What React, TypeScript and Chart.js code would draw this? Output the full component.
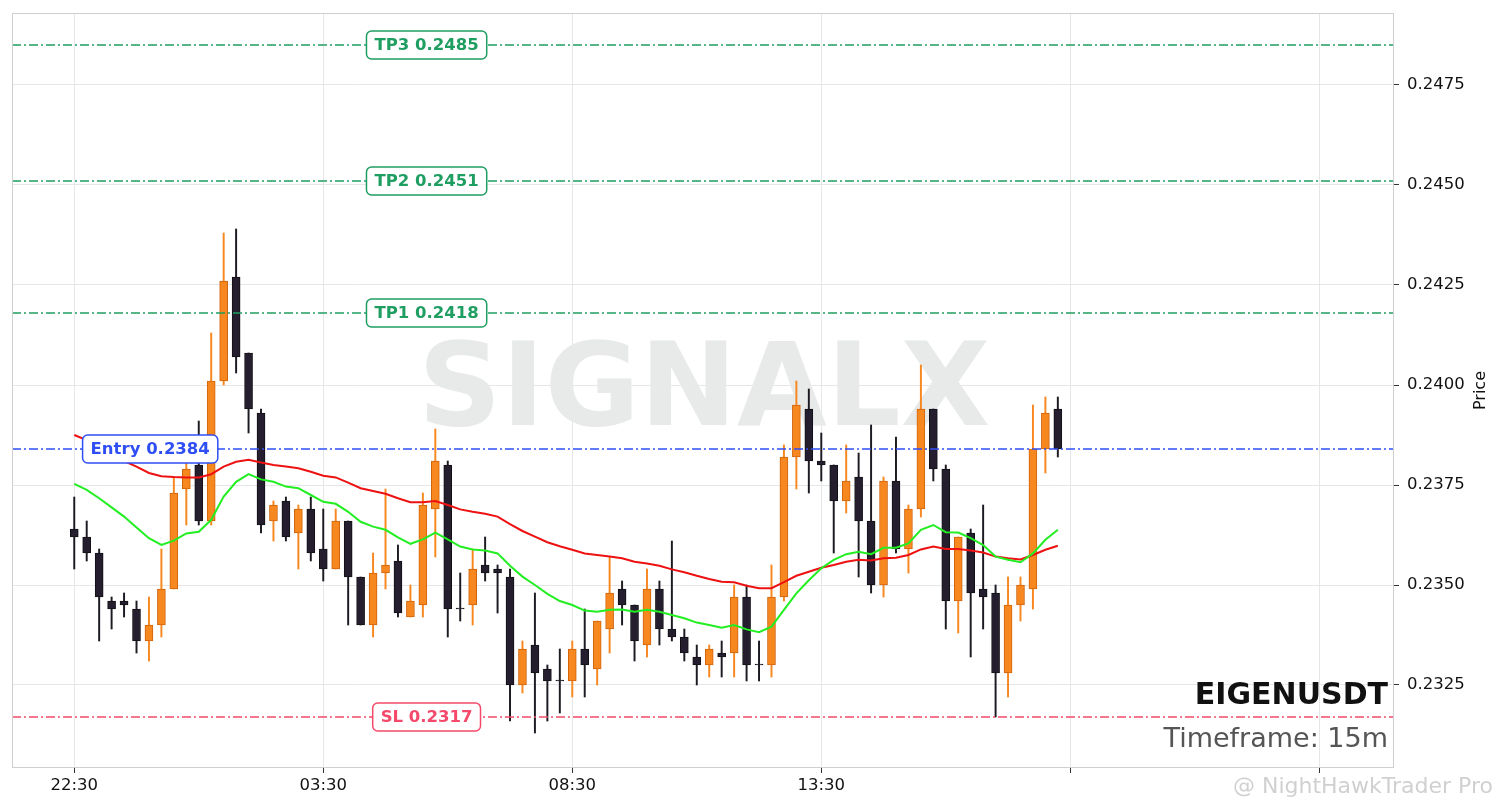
import React, { useEffect, useRef } from 'react';
import { Chart, registerables } from 'chart.js';

Chart.register(...registerables);

// 15m candles, 22:30 onwards
const opens = [
  0.2364, 0.2362, 0.2358, 0.2346, 0.2346, 0.2344, 0.2336, 0.2340, 0.2349, 0.2374,
  0.2380, 0.2366, 0.2401, 0.2427, 0.2408, 0.2393, 0.2366, 0.2371, 0.2363, 0.2369,
  0.2359, 0.2354, 0.2366, 0.2352, 0.2340, 0.2353, 0.2356, 0.2342, 0.2345, 0.2369,
  0.2380, 0.23442, 0.2345, 0.2355, 0.2354, 0.2352, 0.2325, 0.2335, 0.2329, 0.23262,
  0.2326, 0.2334, 0.2329, 0.2339, 0.2349, 0.2345, 0.2335, 0.2349, 0.2339, 0.2337,
  0.2332, 0.2330, 0.2333, 0.2333, 0.2347, 0.23302, 0.2330, 0.2347, 0.2382, 0.2394,
  0.2381, 0.2380, 0.2371, 0.2377, 0.2366, 0.2350, 0.2376, 0.2359, 0.2369, 0.2394,
  0.2379, 0.2346, 0.2363, 0.2349, 0.2348, 0.2328, 0.2345, 0.2349, 0.2384, 0.2394,
];
const highs = [
  0.2372, 0.2366, 0.2359, 0.2347, 0.2348, 0.2346, 0.2347, 0.2359, 0.2377, 0.2381,
  0.2391, 0.2413, 0.2438, 0.2439, 0.2408, 0.2394, 0.2371, 0.2372, 0.2370, 0.2372,
  0.2369, 0.2369, 0.2366, 0.2352, 0.2358, 0.2374, 0.2360, 0.2350, 0.2373, 0.2389,
  0.2381, 0.2353, 0.2359, 0.2362, 0.2355, 0.2354, 0.2336, 0.2348, 0.2330, 0.2334,
  0.2336, 0.2344, 0.2341, 0.2357, 0.2351, 0.2345, 0.2354, 0.2351, 0.2361, 0.2339,
  0.2335, 0.2335, 0.2336, 0.2350, 0.2350, 0.2336, 0.2355, 0.2385, 0.2401, 0.2399,
  0.2388, 0.2380, 0.2385, 0.2383, 0.2390, 0.2377, 0.2387, 0.2370, 0.2405, 0.2394,
  0.2380, 0.2362, 0.2364, 0.2370, 0.2350, 0.2352, 0.2352, 0.2395, 0.2397, 0.2397,
];
const lows = [
  0.2354, 0.2356, 0.2336, 0.2339, 0.2342, 0.2333, 0.2331, 0.2337, 0.2349, 0.2365,
  0.2365, 0.2365, 0.2400, 0.2403, 0.2388, 0.2363, 0.2361, 0.2361, 0.2354, 0.2356,
  0.2351, 0.2354, 0.2340, 0.2340, 0.2337, 0.2349, 0.2342, 0.2342, 0.2342, 0.2357,
  0.2337, 0.2341, 0.2340, 0.2351, 0.2343, 0.2316, 0.2323, 0.2313, 0.2316, 0.2318,
  0.2322, 0.2322, 0.2325, 0.2333, 0.2340, 0.2331, 0.2332, 0.2335, 0.2336, 0.2331,
  0.2325, 0.2327, 0.2327, 0.2327, 0.2326, 0.2326, 0.2327, 0.2346, 0.2374, 0.2373,
  0.2376, 0.2358, 0.2368, 0.2352, 0.2348, 0.2347, 0.2358, 0.2353, 0.2367, 0.2376,
  0.2339, 0.2338, 0.2332, 0.2339, 0.2317, 0.2322, 0.2341, 0.2344, 0.2378, 0.2382,
];
const closes = [
  0.2362, 0.2358, 0.2347, 0.2344, 0.2345, 0.2336, 0.2340, 0.2349, 0.2373, 0.2379,
  0.2366, 0.2401, 0.2426, 0.2407, 0.2394, 0.2365, 0.2370, 0.2362, 0.2369, 0.2358,
  0.2354, 0.2366, 0.2352, 0.2340, 0.2353, 0.2355, 0.2343, 0.2346, 0.2370, 0.2381,
  0.2344, 0.2344, 0.2354, 0.2353, 0.2353, 0.2325, 0.2334, 0.2328, 0.2326, 0.2326,
  0.2334, 0.2330, 0.2341, 0.2348, 0.2345, 0.2336, 0.2349, 0.2339, 0.2337, 0.2333,
  0.2330, 0.2334, 0.2332, 0.2347, 0.2330, 0.2330, 0.2347, 0.2382, 0.2395, 0.2381,
  0.2380, 0.2371, 0.2376, 0.2366, 0.2350, 0.2376, 0.2359, 0.2369, 0.2394, 0.2379,
  0.2346, 0.2362, 0.2348, 0.2347, 0.2328, 0.2345, 0.2350, 0.2384, 0.2393, 0.2384,
];
const emaFast = [
  0.23753, 0.23738, 0.23717, 0.23694, 0.23671, 0.23644, 0.23617, 0.23600, 0.23611, 0.23629,
  0.23633, 0.23663, 0.23721, 0.23758, 0.23777, 0.23764, 0.23758, 0.23746, 0.23742, 0.23725,
  0.23708, 0.23703, 0.23683, 0.23658, 0.23646, 0.23638, 0.23619, 0.23603, 0.23614, 0.23631,
  0.23614, 0.23596, 0.23589, 0.23586, 0.23579, 0.23548, 0.23521, 0.23500, 0.23478, 0.23460,
  0.23450, 0.23436, 0.23433, 0.23438, 0.23439, 0.23433, 0.23438, 0.23433, 0.23425, 0.23417,
  0.23406, 0.23400, 0.23393, 0.23400, 0.23389, 0.23382, 0.23396, 0.23438, 0.23479, 0.23512,
  0.23542, 0.23563, 0.23577, 0.23583, 0.23577, 0.23593, 0.23593, 0.23604, 0.23638, 0.23650,
  0.23632, 0.23631, 0.23617, 0.23600, 0.23571, 0.23563, 0.23557, 0.23579, 0.23613, 0.23638,
];
const emaSlow = [
  0.23875, 0.23862, 0.23845, 0.23828, 0.23810, 0.23796, 0.23780, 0.23772, 0.23770, 0.23769,
  0.23769, 0.23777, 0.23796, 0.23808, 0.23813, 0.23806, 0.23800, 0.23796, 0.23792, 0.23783,
  0.23773, 0.23769, 0.23756, 0.23742, 0.23735, 0.23728, 0.23717, 0.23707, 0.23707, 0.23710,
  0.23700, 0.23689, 0.23683, 0.23678, 0.23671, 0.23652, 0.23635, 0.23621, 0.23607, 0.23597,
  0.23588, 0.23579, 0.23575, 0.23571, 0.23567, 0.23558, 0.23554, 0.23548, 0.23539, 0.23532,
  0.23523, 0.23515, 0.23508, 0.23507, 0.23498, 0.23492, 0.23492, 0.23507, 0.23523, 0.23533,
  0.23543, 0.23550, 0.23558, 0.23563, 0.23561, 0.23567, 0.23568, 0.23575, 0.23589, 0.23596,
  0.23590, 0.23590, 0.23586, 0.23581, 0.23571, 0.23567, 0.23564, 0.23575, 0.23588, 0.23598,
];

const timeTickIndex = [0, 20, 40, 60, 80, 100];
const timeTickLabels = ['22:30', '03:30', '08:30', '13:30', '', ''];
const priceTicks = [0.2325, 0.235, 0.2375, 0.24, 0.2425, 0.245, 0.2475];

const levelNames = ['TP3', 'TP2', 'TP1', 'Entry', 'SL'];
const levelValues = [0.2485, 0.2451, 0.2418, 0.2384, 0.2317];

const symbol = 'EIGENUSDT';
const timeframe = 'Timeframe: 15m';

const FONT = '"DejaVu Sans", "Liberation Sans", sans-serif';
const BULL = '#f7871f';
const BULL_EDGE = '#d0640c';
const BEAR = '#251e2e';
const BEAR_EDGE = '#111016';

function levelColor(name: string) {
  if (name === 'Entry') return '#2f4ff5';
  if (name === 'SL') return '#f4496a';
  return '#1f9e62';
}

const decorPlugin = {
  id: 'decor',
  beforeDatasetsDraw(chart: any) {
    const { ctx, chartArea: a } = chart;
    ctx.save();
    ctx.font = `bold 116px ${FONT}`;
    ctx.fillStyle = '#e8eae9';
    ctx.textAlign = 'center';
    ctx.textBaseline = 'alphabetic';
    ctx.fillText('SIGNALX', (a.left + a.right) / 2 + 1, a.top + a.height * 0.5457);
    ctx.restore();
  },
  afterDatasetsDraw(chart: any) {
    const { ctx, chartArea: a, scales } = chart;
    ctx.save();
    // frame
    ctx.strokeStyle = '#cfcfcf';
    ctx.lineWidth = 1;
    ctx.strokeRect(a.left + 0.5, a.top + 0.5, a.width - 1, a.height - 1);

    // level labels
    ctx.font = `bold 16.5px ${FONT}`;
    ctx.textAlign = 'center';
    ctx.textBaseline = 'middle';
    levelNames.forEach((name, i) => {
      const v = levelValues[i];
      const text = `${name} ${v.toFixed(4)}`;
      const cx = a.left + a.width * (name === 'Entry' ? 0.1 : 0.3);
      const cy = scales.y.getPixelForValue(v);
      const w = ctx.measureText(text).width + 16;
      const h = 28;
      const col = levelColor(name);
      ctx.beginPath();
      ctx.roundRect(cx - w / 2, cy - h / 2, w, h, 5);
      ctx.fillStyle = '#ffffff';
      ctx.fill();
      ctx.lineWidth = 1.5;
      ctx.strokeStyle = col;
      ctx.stroke();
      ctx.fillStyle = col;
      ctx.fillText(text, cx, cy + 1);
    });

    // symbol / timeframe
    ctx.textAlign = 'right';
    ctx.textBaseline = 'alphabetic';
    ctx.font = `bold 30px ${FONT}`;
    ctx.fillStyle = '#111111';
    ctx.fillText(symbol, a.right - 6, 704);
    ctx.font = `27px ${FONT}`;
    ctx.fillStyle = '#555555';
    ctx.fillText(timeframe, a.right - 6, 747);

    // axis title on the right, reading upward
    ctx.save();
    ctx.translate(1481, (a.top + a.bottom) / 2);
    ctx.rotate(-Math.PI / 2);
    ctx.font = `16px ${FONT}`;
    ctx.fillStyle = '#111111';
    ctx.textAlign = 'center';
    ctx.textBaseline = 'middle';
    ctx.fillText('Price', 0, 0);
    ctx.restore();

    // faint site watermark
    ctx.font = `22px ${FONT}`;
    ctx.fillStyle = 'rgba(170,170,170,0.55)';
    ctx.textAlign = 'right';
    ctx.fillText('@ NightHawkTrader Pro', 1493, 793);
    ctx.restore();
  },
};

export default function App() {
  const canvasRef = useRef<HTMLCanvasElement>(null);
  const chartRef = useRef<Chart | null>(null);

  useEffect(() => {
    document.body.style.margin = '0';
    if (!canvasRef.current) return;
    const ctx = canvasRef.current.getContext('2d');
    if (!ctx) return;
    if (chartRef.current) chartRef.current.destroy();

    const bull = closes.map((c, i) => c >= opens[i]);
    const xMin = -5;
    const xMax = 106;

    chartRef.current = new Chart(ctx, {
      type: 'bar',
      data: {
        datasets: [
          {
            type: 'line',
            label: 'EMA fast',
            data: emaFast.map((v, i) => ({ x: i, y: v })),
            borderColor: '#22ee22',
            borderWidth: 2,
            pointRadius: 0,
            tension: 0,
            order: 0,
          } as any,
          {
            type: 'line',
            label: 'EMA slow',
            data: emaSlow.map((v, i) => ({ x: i, y: v })),
            borderColor: '#ee1111',
            borderWidth: 2,
            pointRadius: 0,
            tension: 0,
            order: 0,
          } as any,
          ...levelNames.map((name, i) => ({
            type: 'line',
            label: name,
            data: [
              { x: xMin, y: levelValues[i] },
              { x: xMax, y: levelValues[i] },
            ],
            borderColor: levelColor(name),
            borderWidth: 1.5,
            borderDash: [9, 3, 2, 3],
            pointRadius: 0,
            order: 1,
          })) as any,
          {
            type: 'bar',
            label: 'bodies',
            data: opens.map((o, i) => ({ x: i, y: [o, closes[i]] })),
            backgroundColor: bull.map((b) => (b ? BULL : BEAR)),
            borderColor: bull.map((b) => (b ? BULL_EDGE : BEAR_EDGE)),
            borderWidth: 1,
            borderSkipped: false,
            barThickness: 8,
            grouped: false,
            order: 2,
          } as any,
          {
            type: 'bar',
            label: 'wicks',
            data: lows.map((l, i) => ({ x: i, y: [l, highs[i]] })),
            backgroundColor: bull.map((b) => (b ? BULL : '#1d1a22')),
            borderWidth: 0,
            barThickness: 1.3,
            grouped: false,
            order: 3,
          } as any,
        ],
      },
      options: {
        responsive: false,
        animation: false,
        layout: { padding: { left: 12, top: 13, right: 0, bottom: 0 } },
        plugins: {
          legend: { display: false },
          tooltip: { enabled: false },
        },
        scales: {
          x: {
            type: 'linear',
            min: xMin,
            max: xMax,
            offset: false,
            grid: { color: '#e6e6e6', offset: false, tickLength: 5, tickColor: '#333333' },
            border: { display: false },
            ticks: {
              color: '#111111',
              font: { family: FONT, size: 16.5 },
              padding: 3,
              maxRotation: 0,
              autoSkip: false,
              callback: (v: any) => {
                const k = timeTickIndex.indexOf(Number(v));
                return k >= 0 ? timeTickLabels[k] : '';
              },
            },
            afterBuildTicks: (s: any) => {
              s.ticks = timeTickIndex.map((v) => ({ value: v }));
            },
            afterFit: (s: any) => {
              s.height = 40;
              s.paddingLeft = 0;
              s.paddingRight = 0;
            },
          },
          y: {
            position: 'right',
            min: 0.230425,
            max: 0.2493,
            grid: { color: '#e6e6e6', tickLength: 5, tickColor: '#333333' },
            border: { display: false },
            ticks: {
              color: '#111111',
              font: { family: FONT, size: 16.5 },
              padding: 8,
              callback: (v: any) => Number(v).toFixed(4),
            },
            afterBuildTicks: (s: any) => {
              s.ticks = priceTicks.map((v) => ({ value: v }));
            },
            afterFit: (s: any) => {
              s.width = 107;
              s.paddingTop = 0;
              s.paddingBottom = 0;
            },
          },
        },
      } as any,
      plugins: [decorPlugin],
    });

    return () => {
      if (chartRef.current) chartRef.current.destroy();
      chartRef.current = null;
    };
  }, []);

  return (
    <div style={{ width: 1501, height: 808, background: '#ffffff' }}>
      <canvas ref={canvasRef} width={1501} height={808} style={{ display: 'block' }} />
    </div>
  );
}
